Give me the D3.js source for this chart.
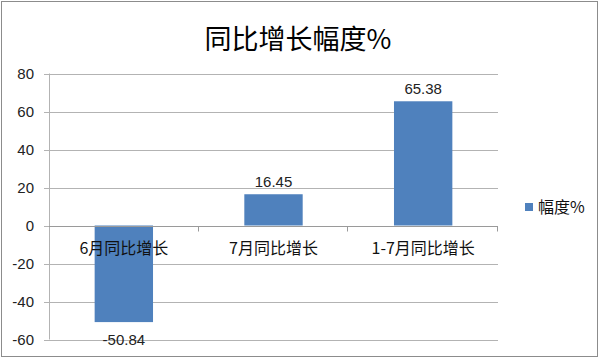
<!DOCTYPE html>
<html>
<head>
<meta charset="utf-8">
<script src="https://cdn.jsdelivr.net/npm/d3@7"></script>
<style>
  body { margin: 0; background: #fff; }
  svg { display: block; font-family: "Noto Sans CJK SC", "Liberation Sans", sans-serif; }
</style>
</head>
<body>
<div id="chart"></div>
<script>
const categories = ["6月同比增长", "7月同比增长", "1-7月同比增长"];
const values = [-50.84, 16.45, 65.38];
const yTicks = [-60, -40, -20, 0, 20, 40, 60, 80];
const seriesName = "幅度%";
const title = "同比增长幅度%";

const width = 600, height = 359;
const svg = d3.select("#chart").append("svg").attr("width", width).attr("height", height);

// outer frame
svg.append("rect")
  .attr("x", 1.5).attr("y", 1.5)
  .attr("width", width - 4).attr("height", height - 4)
  .attr("fill", "#fff").attr("stroke", "#8c8c8c").attr("stroke-width", 1);

const x = d3.scaleBand().domain(categories).range([49, 498]).padding(0);
const y = d3.scaleLinear().domain([-60, 80]).range([339.5, 73.5]);

// gridlines
svg.append("g")
  .selectAll("line")
  .data(yTicks)
  .join("line")
  .attr("x1", 44).attr("x2", 498)
  .attr("y1", d => Math.round(y(d)) + 0.5).attr("y2", d => Math.round(y(d)) + 0.5)
  .attr("stroke", "#b3b3b3");

// y axis line
svg.append("line")
  .attr("x1", 49.5).attr("x2", 49.5)
  .attr("y1", y(80)).attr("y2", y(-60))
  .attr("stroke", "#b3b3b3");

// y tick labels
svg.append("g")
  .selectAll("text")
  .data(yTicks)
  .join("text")
  .attr("x", 34).attr("y", d => y(d))
  .attr("dy", "0.35em")
  .attr("text-anchor", "end")
  .attr("font-size", 15)
  .attr("font-family", "Liberation Sans, sans-serif")
  .attr("fill", "#222")
  .text(d => d);

// bars
const barW = x.bandwidth() * 0.39;
svg.append("g")
  .selectAll("rect")
  .data(values)
  .join("rect")
  .attr("x", (d, i) => x(categories[i]) + x.bandwidth() / 2 - barW / 2)
  .attr("y", d => y(Math.max(0, d)))
  .attr("width", barW)
  .attr("height", d => Math.abs(y(d) - y(0)))
  .attr("fill", "#4f81bd");

// zero axis with category ticks
const y0 = Math.round(y(0)) + 0.5;
svg.append("line")
  .attr("x1", 49).attr("x2", 498)
  .attr("y1", y0).attr("y2", y0)
  .attr("stroke", "#9a9a9a");
svg.append("g")
  .selectAll("line")
  .data(categories)
  .join("line")
  .attr("x1", d => Math.round(x(d) + x.bandwidth()) - 0.5)
  .attr("x2", d => Math.round(x(d) + x.bandwidth()) - 0.5)
  .attr("y1", y0).attr("y2", y0 + 5)
  .attr("stroke", "#9a9a9a");

// category labels
svg.append("g")
  .selectAll("text")
  .data(categories)
  .join("text")
  .attr("x", d => x(d) + x.bandwidth() / 2)
  .attr("y", y0 + 27)
  .attr("text-anchor", "middle")
  .attr("font-size", 16)
  .attr("fill", "#111")
  .text(d => d);

// value labels
svg.append("g")
  .selectAll("text")
  .data(values)
  .join("text")
  .attr("x", (d, i) => x(categories[i]) + x.bandwidth() / 2)
  .attr("y", d => d >= 0 ? y(d) - 7 : y(d) + 23)
  .attr("text-anchor", "middle")
  .attr("font-size", 15)
  .attr("font-family", "Liberation Sans, sans-serif")
  .attr("fill", "#222")
  .text(d => d.toFixed(2));

// title
svg.append("text")
  .attr("x", 298).attr("y", 49)
  .attr("text-anchor", "middle")
  .attr("font-size", 27)
  .attr("fill", "#000")
  .text(title);

// legend
svg.append("rect")
  .attr("x", 525).attr("y", 203)
  .attr("width", 8).attr("height", 8)
  .attr("fill", "#4f81bd");
svg.append("text")
  .attr("x", 538).attr("y", 207)
  .attr("dy", "0.35em")
  .attr("font-size", 16)
  .attr("fill", "#111")
  .text(seriesName);
</script>
</body>
</html>
